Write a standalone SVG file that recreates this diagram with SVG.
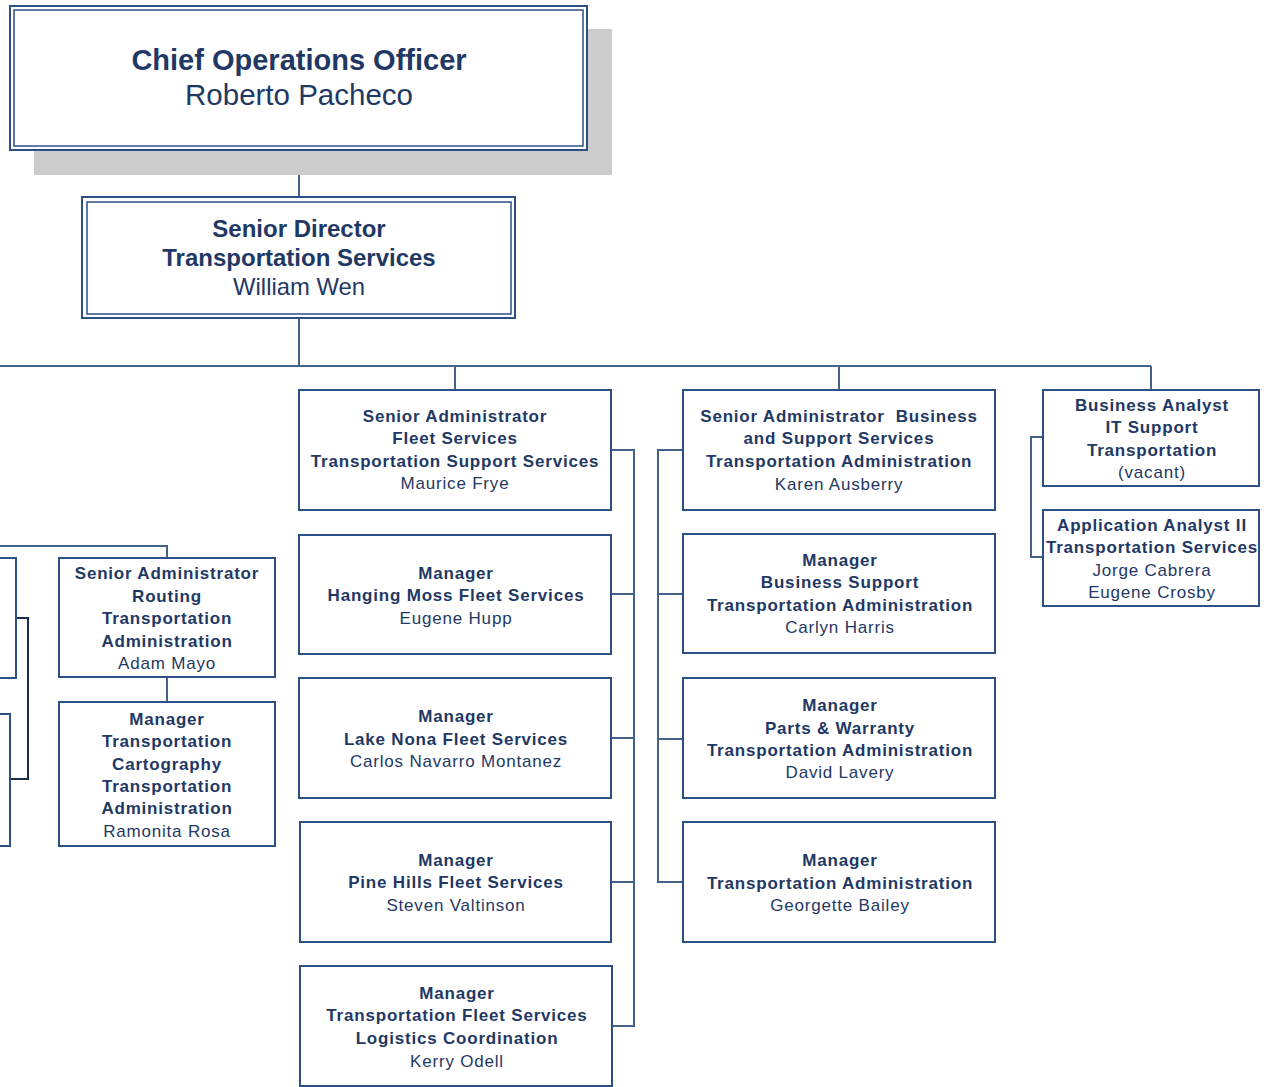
<svg xmlns="http://www.w3.org/2000/svg" width="1278" height="1087" viewBox="0 0 1278 1087">
<style>
.box{fill:#fff;stroke:#2c4f86;stroke-width:2}
.inner{fill:none;stroke:#2c4f86;stroke-width:1.5}
.con{fill:none;stroke:#45628a;stroke-width:2}
.dark{fill:none;stroke:#1c2b48;stroke-width:2}
text{font-family:"Liberation Sans",Arial,sans-serif;fill:#1f3864;text-anchor:middle}
.t{font-size:17px;font-weight:bold;letter-spacing:0.8px}
.n{font-size:17px;letter-spacing:0.8px}
</style>
<rect x="0" y="0" width="1278" height="1087" fill="#fff"/>
<g id="connectors">
<path class="con" d="M299 150V197M299 318V366M0 366H1151M455 366V390M839 366V390M1151 366V390"/>
<path class="con" d="M0 546H167V558M167 677V702"/>
<path class="dark" d="M16 618H28V779H10"/>
<path class="con" d="M611 450H634V1026H611M611 594H634M611 738H634M611 882H634"/>
<path class="con" d="M683 450H658V882H683M658 594H683M658 739H683"/>
<path class="con" d="M1043 437H1031V557H1043"/>
</g>
<g id="coo">
<rect x="34" y="29" width="578" height="146" fill="#cccccc"/>
<rect class="box" x="10" y="6" width="577" height="144"/>
<rect class="inner" x="14" y="10" width="569" height="136"/>
<text x="299" y="70" style="font-size:29px;font-weight:bold">Chief Operations Officer</text>
<text x="299" y="105" style="font-size:29.5px">Roberto Pacheco</text>
</g>
<g id="senior-director">
<rect class="box" x="82" y="197" width="433" height="121"/>
<rect class="inner" x="87" y="202" width="424" height="112"/>
<text x="299" y="237" style="font-size:24px;font-weight:bold">Senior Director</text>
<text x="299" y="266" style="font-size:24px;font-weight:bold">Transportation Services</text>
<text x="299" y="295" style="font-size:23.8px">William Wen</text>
</g>
<g id="left-box-1"><rect class="box" x="-20" y="558" width="36" height="120"/></g>
<g id="left-box-2"><rect class="box" x="-20" y="714" width="30" height="132"/></g>
<g id="routing">
<rect class="box" x="59" y="558" width="216" height="119"/>
<text class="t" x="167" y="579">Senior Administrator</text>
<text class="t" x="167" y="602">Routing</text>
<text class="t" x="167" y="624">Transportation</text>
<text class="t" x="167" y="647">Administration</text>
<text class="n" x="167" y="669">Adam Mayo</text>
</g>
<g id="cartography">
<rect class="box" x="59" y="702" width="216" height="144"/>
<text class="t" x="167" y="725">Manager</text>
<text class="t" x="167" y="747">Transportation</text>
<text class="t" x="167" y="770">Cartography</text>
<text class="t" x="167" y="792">Transportation</text>
<text class="t" x="167" y="814">Administration</text>
<text class="n" x="167" y="837">Ramonita Rosa</text>
</g>
<g id="fleet">
<rect class="box" x="299" y="390" width="312" height="120"/>
<text class="t" x="455" y="422">Senior Administrator</text>
<text class="t" x="455" y="444">Fleet Services</text>
<text class="t" x="455" y="467">Transportation Support Services</text>
<text class="n" x="455" y="489">Maurice Frye</text>
</g>
<g id="hanging-moss">
<rect class="box" x="299" y="535" width="312" height="119"/>
<text class="t" x="456" y="579">Manager</text>
<text class="t" x="456" y="601">Hanging Moss Fleet Services</text>
<text class="n" x="456" y="624">Eugene Hupp</text>
</g>
<g id="lake-nona">
<rect class="box" x="299" y="678" width="312" height="120"/>
<text class="t" x="456" y="722">Manager</text>
<text class="t" x="456" y="745">Lake Nona Fleet Services</text>
<text class="n" x="456" y="767">Carlos Navarro Montanez</text>
</g>
<g id="pine-hills">
<rect class="box" x="300" y="822" width="311" height="120"/>
<text class="t" x="456" y="866">Manager</text>
<text class="t" x="456" y="888">Pine Hills Fleet Services</text>
<text class="n" x="456" y="911">Steven Valtinson</text>
</g>
<g id="fleet-logistics">
<rect class="box" x="300" y="966" width="312" height="120"/>
<text class="t" x="457" y="999">Manager</text>
<text class="t" x="457" y="1021">Transportation Fleet Services</text>
<text class="t" x="457" y="1044">Logistics Coordination</text>
<text class="n" x="457" y="1067">Kerry Odell</text>
</g>
<g id="business-support-sa">
<rect class="box" x="683" y="390" width="312" height="120"/>
<text class="t" x="839" y="422">Senior Administrator&#160; Business</text>
<text class="t" x="839" y="444">and Support Services</text>
<text class="t" x="839" y="467">Transportation Administration</text>
<text class="n" x="839" y="490">Karen Ausberry</text>
</g>
<g id="business-support-mgr">
<rect class="box" x="683" y="534" width="312" height="119"/>
<text class="t" x="840" y="566">Manager</text>
<text class="t" x="840" y="588">Business Support</text>
<text class="t" x="840" y="611">Transportation Administration</text>
<text class="n" x="840" y="633">Carlyn Harris</text>
</g>
<g id="parts-warranty">
<rect class="box" x="683" y="678" width="312" height="120"/>
<text class="t" x="840" y="711">Manager</text>
<text class="t" x="840" y="734">Parts &amp; Warranty</text>
<text class="t" x="840" y="756">Transportation Administration</text>
<text class="n" x="840" y="778">David Lavery</text>
</g>
<g id="transportation-admin">
<rect class="box" x="683" y="822" width="312" height="120"/>
<text class="t" x="840" y="866">Manager</text>
<text class="t" x="840" y="889">Transportation Administration</text>
<text class="n" x="840" y="911">Georgette Bailey</text>
</g>
<g id="business-analyst">
<rect class="box" x="1043" y="390" width="216" height="96"/>
<text class="t" x="1152" y="411">Business Analyst</text>
<text class="t" x="1152" y="433">IT Support</text>
<text class="t" x="1152" y="456">Transportation</text>
<text class="n" x="1152" y="478">(vacant)</text>
</g>
<g id="application-analyst">
<rect class="box" x="1043" y="510" width="216" height="96"/>
<text class="t" x="1152" y="531">Application Analyst II</text>
<text class="t" x="1152" y="553">Transportation Services</text>
<text class="n" x="1152" y="576">Jorge Cabrera</text>
<text class="n" x="1152" y="598">Eugene Crosby</text>
</g>
</svg>
